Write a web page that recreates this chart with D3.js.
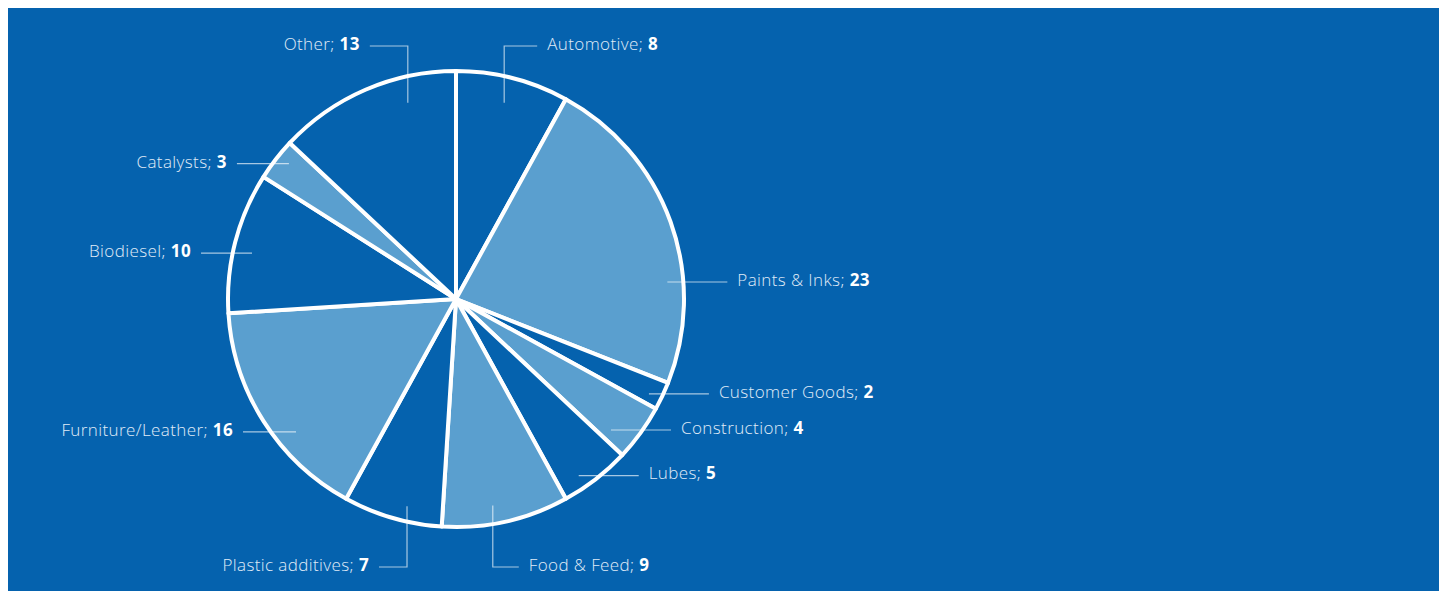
<!DOCTYPE html>
<html>
<head>
<meta charset="utf-8">
<script src="https://cdn.jsdelivr.net/npm/d3@7.9.0/dist/d3.min.js"></script>
<style>
  html, body { margin: 0; padding: 0; background: #ffffff; }
  svg { display: block; }
  .lbl { font-family: "Open Sans", "Noto Sans", sans-serif; font-size: 17px; font-weight: 300; letter-spacing: 0.4px; fill: #e0ecf8; }
  .lbl tspan.val { font-weight: 700; fill: #ffffff; }
</style>
</head>
<body>
<svg id="chart"></svg>
<script>
// data
const categories = ["Automotive", "Paints & Inks", "Customer Goods", "Construction", "Lubes",
  "Food & Feed", "Plastic additives", "Furniture/Leather", "Biodiesel", "Catalysts", "Other"];
const values = [8, 23, 2, 4, 5, 9, 7, 16, 10, 3, 13];

// label placement: anchor angle (deg, clockwise from top), anchor radius fraction,
// optional elbow y (relative to centre), horizontal leader length, side
const labelLayout = [
  { a: 13.8,  rf: 0.886, ey: -253, len: 33, side: 1 },
  { a: 85.4,  rf: 0.93,  len: 60, side: 1 },
  { a: 116.2, rf: 0.943, len: 60, side: 1 },
  { a: 130.2, rf: 0.89,  len: 60, side: 1 },
  { a: 145.2, rf: 0.943, len: 60, side: 1 },
  { a: 169.9, rf: 0.92,  ey: 268, len: 26, side: 1 },
  { a: 193.3, rf: 0.934, ey: 268, len: 28, side: -1 },
  { a: 230.3, rf: 0.912, len: 53, side: -1 },
  { a: 282.7, rf: 0.917, len: 51, side: -1 },
  { a: 309,   rf: 0.943, len: 52, side: -1 },
  { a: -13.8, rf: 0.886, ey: -253, len: 38, side: -1 }
];

const width = 1448, height = 593;
const bg = "#0562ae";
const light = "#5a9fcf";
const cx = 456, cy = 299, radius = 228;

const svg = d3.select("#chart")
  .attr("width", width)
  .attr("height", height);

svg.append("rect")
  .attr("x", 8).attr("y", 8)
  .attr("width", 1431).attr("height", 583)
  .attr("fill", bg);

const g = svg.append("g").attr("transform", `translate(${cx},${cy})`);

const data = categories.map((c, i) => ({ label: c, value: values[i] }));
const pie = d3.pie().value(d => d.value).sort(null);
const arc = d3.arc().innerRadius(0).outerRadius(radius);

g.selectAll("path.slice")
  .data(pie(data))
  .join("path")
  .attr("class", "slice")
  .attr("d", arc)
  .attr("fill", (d, i) => i % 2 === 1 ? light : bg)
  .attr("stroke", "#ffffff")
  .attr("stroke-width", 4)
  .attr("stroke-linejoin", "round");

// leader lines and labels
const lines = g.append("g");
const labels = g.append("g");

data.forEach((d, i) => {
  const L = labelLayout[i];
  const ang = L.a * Math.PI / 180;
  const x0 = Math.sin(ang) * radius * L.rf;
  const y0 = -Math.cos(ang) * radius * L.rf;
  const pts = [[x0, y0]];
  let yEnd = y0;
  if (L.ey !== undefined) {
    yEnd = L.ey;
    pts.push([x0, yEnd]);
  }
  const xEnd = x0 + L.side * L.len;
  pts.push([xEnd, yEnd]);

  lines.append("path")
    .attr("d", d3.line()(pts))
    .attr("fill", "none")
    .attr("stroke", "rgba(255,255,255,0.65)")
    .attr("stroke-width", 1.2);

  const t = labels.append("text")
    .attr("class", "lbl")
    .attr("x", xEnd + L.side * 10)
    .attr("y", yEnd)
    .attr("dy", "0.23em")
    .attr("text-anchor", L.side > 0 ? "start" : "end");
  t.append("tspan").text(d.label + "; ");
  t.append("tspan").attr("class", "val").text(d.value);
});
</script>
</body>
</html>
